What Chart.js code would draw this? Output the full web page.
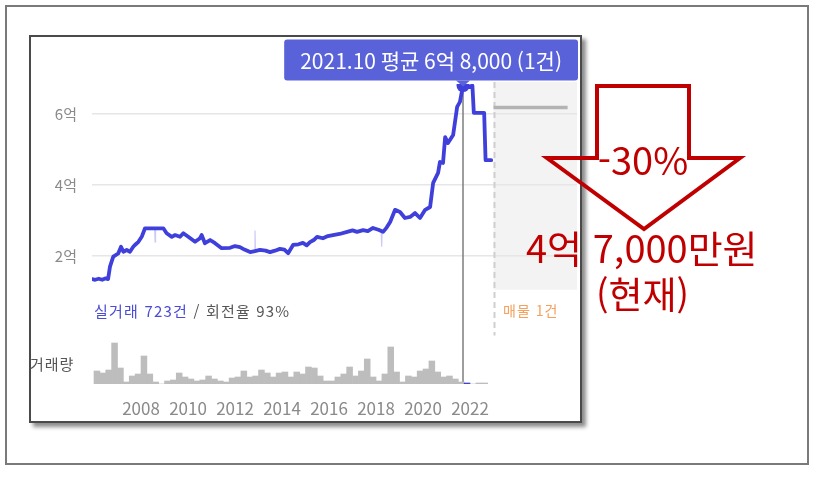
<!DOCTYPE html>
<html lang="ko">
<head>
<meta charset="utf-8">
<script src="https://cdn.jsdelivr.net/npm/chart.js@4.4.0/dist/chart.umd.min.js"></script>
<style>
  html, body { margin: 0; padding: 0; background: #fff; }
  body { width: 822px; height: 478px; position: relative; overflow: hidden;
         font-family: "Noto Sans CJK KR", "Noto Sans", sans-serif; }
  #frame { position: absolute; left: 5px; top: 5px; width: 800px; height: 456px; border: 2px solid #7a7a7a; }
  #shot { position: absolute; left: 29px; top: 35px; width: 549px; height: 384px;
          border: 2px solid #4a4a4a; box-shadow: 4px 4px 4px rgba(0,0,0,0.45); background: #fff; }
  #wrap { position: absolute; left: 30px; top: 36px; width: 550px; height: 384px; }
  .t { position: absolute; white-space: nowrap; line-height: 1; }
  #arrow { position: absolute; left: 0; top: 0; }
  .red { color: #c00000; }
</style>
</head>
<body>
<div id="frame"></div>
<div id="shot"></div>
<div id="wrap"><canvas id="c" width="550" height="384"></canvas></div>

<div class="t" style="left:30px; top:356px; font-size:15px; letter-spacing:1px; color:#555;">거래량</div>
<div class="t" style="left:94px; top:303px; font-size:15px; letter-spacing:1.2px; color:#555;"><span style="color:#4b4bd6;">실거래 723건</span> / 회전율 93%</div>
<div class="t" style="left:503px; top:303px; font-size:14px; letter-spacing:1px; color:#f5a05c;">매물 1건</div>

<svg id="arrow" width="822" height="478">
  <polygon points="597,86 689,86 689,158 740,158 644,229 547,158 597,158"
           fill="none" stroke="#c00000" stroke-width="4"/>
</svg>
<div class="t red" style="left:543px; width:200px; text-align:center; top:140px; font-size:38px;">-30%</div>
<div class="t red" style="left:526px; top:228px; font-size:38px;">4억 7,000만원</div>
<div class="t red" style="left:596px; top:275px; font-size:37px;">(현재)</div>

<script>
// 월평균 실거래가 (억)
const priceYears = [2005.92, 2006.05, 2006.2, 2006.35, 2006.5, 2006.6, 2006.68, 2006.82, 2007.03, 2007.15,
  2007.25, 2007.39, 2007.53, 2007.67, 2007.74, 2007.89, 2008.03, 2008.17, 2008.5, 2008.95,
  2009.09, 2009.31, 2009.45, 2009.66, 2009.8, 2010.01, 2010.3, 2010.51, 2010.58, 2010.72,
  2010.94, 2011.15, 2011.43, 2011.79, 2012.0, 2012.21, 2012.4, 2012.64, 2012.85, 2013.06,
  2013.3, 2013.49, 2013.7, 2013.91, 2014.1, 2014.26, 2014.47, 2014.7, 2014.89, 2015.05,
  2015.19, 2015.35, 2015.49, 2015.74, 2015.95, 2016.17, 2016.45, 2016.77, 2017.0, 2017.19,
  2017.45, 2017.65, 2017.87, 2018.1, 2018.3, 2018.45, 2018.6, 2018.81, 2019.02, 2019.23,
  2019.45, 2019.66, 2019.87, 2020.09, 2020.3, 2020.43, 2020.64, 2020.72, 2020.85, 2020.94,
  2021.06, 2021.28, 2021.45, 2021.57, 2021.7, 2021.9, 2022.1, 2022.16, 2022.6, 2022.66,
  2022.9];
const prices = [1.35, 1.33, 1.36, 1.33, 1.37, 1.35, 1.7, 1.98, 2.07, 2.26,
  2.12, 2.17, 2.12, 2.26, 2.31, 2.4, 2.54, 2.78, 2.78, 2.78,
  2.64, 2.54, 2.59, 2.54, 2.64, 2.54, 2.4, 2.5, 2.59, 2.36,
  2.45, 2.36, 2.22, 2.23, 2.28, 2.25, 2.18, 2.11, 2.14, 2.17,
  2.15, 2.11, 2.15, 2.2, 2.18, 2.08, 2.31, 2.33, 2.37, 2.3,
  2.39, 2.45, 2.54, 2.5, 2.56, 2.59, 2.62, 2.68, 2.72, 2.68,
  2.73, 2.7, 2.79, 2.74, 2.68, 2.8, 2.96, 3.3, 3.24, 3.07,
  3.1, 3.21, 3.07, 3.3, 3.38, 4.06, 4.34, 4.65, 4.62, 5.35,
  5.18, 5.41, 6.2, 6.34, 6.8, 6.75, 6.8, 6.03, 6.03, 4.7,
  4.7];

// 개별 거래 (튀는 값)
const rawYears  = [2008.58, 2008.6, 2008.62, 2008.63, 2012.83, 2012.85, 2012.87, 2012.88, 2018.22, 2018.24, 2018.26];
const rawPrices = [2.78, 2.4, 2.78, null, 2.14, 2.72, 2.14, null, 2.7, 2.26, 2.7];

// 분기별 거래량, 2006년 1분기부터
const volumes = [13, 11, 14, 41, 16, 2, 8, 10, 28, 10,
  2, 0, 3, 4, 11, 7, 5, 3, 4, 8,
  5, 3, 2, 6, 7, 13, 7, 8, 14, 11,
  7, 11, 12, 7, 12, 10, 17, 16, 8, 3,
  3, 7, 10, 17, 8, 13, 25, 7, 3, 10,
  37, 12, 2, 8, 7, 13, 15, 23, 12, 7,
  8, 5, 2, 1, 0, 1, 1];
const volStart = 2006;

// 매물 호가
const listingYears = [2023.0, 2026.15];
const listingPrices = [6.18, 6.18];

const xTicks = [2008, 2010, 2012, 2014, 2016, 2018, 2020, 2022];
const yTicks = [2, 4, 6];
const peakYear = 2021.7;
const tipText = '2021.10 평균 6억 8,000 (1건)';

const zoneFrom = 2023.0;
const zoneBottom = 1.05;
const dashBottom = -0.24;

const blue = '#3f3fdc';
const font = '"Noto Sans CJK KR", "Noto Sans", sans-serif';
const peakIdx = priceYears.indexOf(peakYear);
const tipVolIdx = Math.floor((peakYear - volStart) * 4 + 0.2);

const zonePlugin = {
  id: 'zone',
  beforeDraw(chart) {
    const { ctx, chartArea: a, scales: { x, y } } = chart;
    const x0 = x.getPixelForValue(zoneFrom);
    ctx.save();
    ctx.fillStyle = '#f3f3f3';
    ctx.fillRect(x0, a.top - 2, a.right - x0, y.getPixelForValue(zoneBottom) - a.top + 2);
    ctx.restore();
  },
  beforeDatasetsDraw(chart) {
    const { ctx, chartArea: a, scales: { x, y } } = chart;
    const x0 = Math.round(x.getPixelForValue(zoneFrom)) + 0.5;
    ctx.save();
    ctx.strokeStyle = '#cfcfcf';
    ctx.lineWidth = 2;
    ctx.setLineDash([6, 4]);
    ctx.beginPath();
    ctx.moveTo(x0, a.top - 2);
    ctx.lineTo(x0, y.getPixelForValue(dashBottom));
    ctx.stroke();
    // 선택된 달 세로선
    const pt = chart.getDatasetMeta(0).data[peakIdx];
    ctx.setLineDash([]);
    ctx.strokeStyle = '#7d7d7d';
    ctx.lineWidth = 1.5;
    ctx.beginPath();
    ctx.moveTo(pt.x, pt.y);
    ctx.lineTo(pt.x, a.bottom);
    ctx.stroke();
    ctx.restore();
  }
};

const tipPlugin = {
  id: 'tip',
  afterDraw(chart) {
    const { ctx, chartArea: a } = chart;
    const pt = chart.getDatasetMeta(0).data[peakIdx];
    ctx.save();
    ctx.font = '21px ' + font;
    const w = ctx.measureText(tipText).width + 32;
    const h = 41;
    const bx = Math.min(pt.x - w / 2, a.right + 1 - w);
    const by = pt.y - 5 - h;
    ctx.fillStyle = '#5a62d9';
    ctx.beginPath();
    ctx.roundRect(bx, by, w, h, 3);
    ctx.fill();
    ctx.beginPath();
    ctx.moveTo(pt.x - 7, by + h);
    ctx.lineTo(pt.x + 7, by + h);
    ctx.lineTo(pt.x, by + h + 6);
    ctx.fill();
    ctx.fillStyle = '#fff';
    ctx.textAlign = 'center';
    ctx.textBaseline = 'middle';
    ctx.fillText(tipText, bx + w / 2, by + h / 2 + 1);
    ctx.restore();
  }
};

new Chart(document.getElementById('c'), {
  type: 'bar',
  data: {
    datasets: [
      {
        type: 'line',
        data: priceYears.map((x, i) => ({ x: x, y: prices[i] })),
        yAxisID: 'y',
        borderColor: blue,
        borderWidth: 3.8,
        borderJoinStyle: 'round',
        borderCapStyle: 'round',
        pointRadius: (c) => (c.dataIndex === peakIdx ? 6.5 : 0),
        pointBackgroundColor: blue,
        pointBorderWidth: 0,
        tension: 0,
        order: 0
      },
      {
        type: 'line',
        data: rawYears.map((x, i) => ({ x: x, y: rawPrices[i] })),
        yAxisID: 'y',
        borderColor: 'rgba(140,140,235,0.45)',
        borderWidth: 1.2,
        pointRadius: 0,
        spanGaps: false,
        order: 1
      },
      {
        type: 'bar',
        data: volumes.map((v, i) => ({ x: volStart + i / 4 + 0.125, y: v })),
        yAxisID: 'v',
        backgroundColor: volumes.map((v, i) => (i === tipVolIdx ? blue : '#bdbdbd')),
        barPercentage: 1,
        categoryPercentage: 1,
        order: 2
      },
      {
        type: 'line',
        data: listingYears.map((x, i) => ({ x: x, y: listingPrices[i] })),
        yAxisID: 'y',
        borderColor: '#b3b3b3',
        borderWidth: 3.5,
        pointRadius: 0,
        order: 3
      }
    ]
  },
  options: {
    responsive: false,
    animation: false,
    events: [],
    layout: { padding: { top: 48, right: 3, left: 0, bottom: 0 } },
    plugins: { legend: { display: false }, tooltip: { enabled: false } },
    scales: {
      x: {
        type: 'linear',
        offset: false,
        min: 2005.915,
        max: 2026.55,
        grid: { display: false },
        border: { display: false },
        afterBuildTicks: (s) => { s.ticks = xTicks.map((v) => ({ value: v })); },
        afterFit: (s) => { s.height = 36; },
        ticks: {
          color: '#8a8a8a',
          font: { size: 17, family: font },
          padding: 6,
          autoSkip: false,
          maxRotation: 0,
          callback: (v) => String(v)
        }
      },
      y: {
        position: 'left',
        min: -1.606,
        max: 6.845,
        grid: { color: '#e6e6e6', lineWidth: 1.5, drawTicks: false, tickLength: 0 },
        border: { display: false },
        afterBuildTicks: (s) => { s.ticks = yTicks.map((v) => ({ value: v })); },
        afterFit: (s) => { s.width = 62; },
        ticks: {
          color: '#8a8a8a',
          font: { size: 15, family: font },
          padding: 15,
          callback: (v) => v + '억'
        }
      },
      v: { position: 'left', min: 0, max: 300, display: false }
    }
  },
  plugins: [zonePlugin, tipPlugin]
});
</script>
</body>
</html>
